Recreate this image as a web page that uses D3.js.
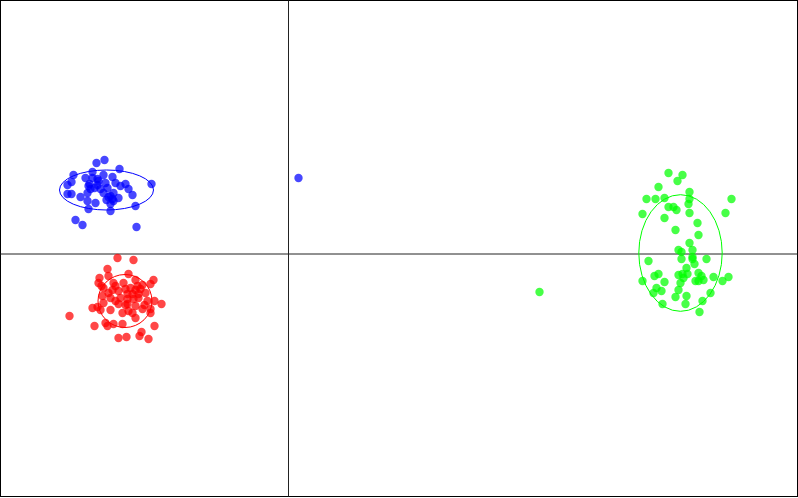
<!DOCTYPE html>
<html><head><meta charset="utf-8">
<script src="https://cdn.jsdelivr.net/npm/d3@7"></script>
<style>html,body{margin:0;padding:0;background:#fff;}svg{display:block;}</style>
</head><body>
<svg id="chart" width="798" height="498"></svg>
<script>
// Group names and colours
const groups = ["A", "B", "C"];
const groupColors = ["blue", "red", "lime"];

// Group A (blue)
const blueX = [-1.92,-1.84,-2.15,-1.96,-1.69,-2.03,-1.96,-1.85,-1.76,-2.17,-2.21,-2.00,-1.91,-1.83,-1.73,-1.63,-1.60,-1.56,-1.37,-2.21,-2.17,-2.01,-1.88,-1.85,-1.78,-1.76,-1.70,-2.01,-1.93,-1.78,-2.00,-1.78,-1.53,-2.13,-2.06,-1.52,-1.98,-1.81,-1.75,-1.91,0.10,-1.99,-1.94,-1.90,-1.80,-1.75,-1.82,-1.68,-2.08];
const blueY = [0.91,0.94,0.79,0.82,0.85,0.76,0.76,0.79,0.77,0.72,0.69,0.68,0.69,0.71,0.71,0.70,0.65,0.59,0.70,0.60,0.60,0.61,0.65,0.61,0.58,0.55,0.56,0.53,0.51,0.50,0.45,0.43,0.48,0.34,0.29,0.27,0.65,0.66,0.61,0.75,0.76,0.70,0.66,0.73,0.57,0.53,0.54,0.68,0.57];

// Group B (red)
const redX = [-1.71,-1.55,-1.81,-1.89,-1.90,-1.80,-1.60,-1.53,-1.75,-1.65,-1.35,-1.38,-1.85,-1.76,-1.70,-1.63,-1.53,-1.48,-1.56,-1.43,-1.86,-1.78,-1.68,-1.61,-1.50,-1.41,-1.34,-1.27,-1.85,-1.70,-1.61,-1.53,-1.46,-1.38,-1.96,-1.88,-1.78,-1.66,-1.56,-1.53,-1.38,-2.19,-1.83,-1.75,-1.66,-1.94,-1.81,-1.34,-1.47,-1.49,-1.70,-1.62,-1.40,-1.91,-1.61,-1.51,-1.73,-1.58,-1.50,-1.46,-1.55,-1.63,-1.73,-1.80,-1.44,-1.60,-1.87];
const redY = [-0.04,-0.06,-0.15,-0.24,-0.29,-0.22,-0.20,-0.26,-0.29,-0.29,-0.26,-0.30,-0.34,-0.36,-0.37,-0.35,-0.36,-0.35,-0.40,-0.39,-0.42,-0.44,-0.44,-0.45,-0.44,-0.47,-0.47,-0.50,-0.49,-0.50,-0.50,-0.52,-0.55,-0.55,-0.54,-0.56,-0.56,-0.59,-0.59,-0.64,-0.59,-0.62,-0.69,-0.70,-0.70,-0.72,-0.72,-0.72,-0.78,-0.82,-0.84,-0.83,-0.85,-0.53,-0.40,-0.32,-0.32,-0.34,-0.40,-0.31,-0.45,-0.51,-0.47,-0.39,-0.51,-0.57,-0.32];

// Group C (green)
const greenX = [3.80,3.94,3.89,3.70,4.01,3.58,3.67,3.76,4.01,4.43,3.80,3.85,3.88,4.00,4.37,3.54,4.01,3.76,4.09,3.87,4.10,4.01,3.90,3.93,4.04,4.04,3.93,3.60,4.04,4.18,4.06,3.98,3.66,3.70,3.90,3.94,3.99,4.10,4.13,4.25,4.40,3.54,3.76,3.92,4.07,4.10,4.15,4.34,3.68,3.73,3.90,3.65,4.22,3.87,3.98,4.14,3.74,3.97,4.11,3.95,2.51];
const greenY = [0.81,0.79,0.73,0.67,0.62,0.55,0.55,0.56,0.55,0.55,0.47,0.47,0.44,0.50,0.41,0.40,0.41,0.36,0.31,0.24,0.19,0.11,0.04,0.02,0.04,-0.03,-0.05,-0.07,-0.05,-0.05,-0.10,-0.14,-0.22,-0.20,-0.21,-0.20,-0.20,-0.19,-0.22,-0.23,-0.23,-0.27,-0.28,-0.29,-0.27,-0.27,-0.26,-0.27,-0.34,-0.37,-0.36,-0.39,-0.39,-0.43,-0.42,-0.47,-0.50,-0.50,-0.58,-0.24,-0.38];

// Confidence ellipses: centre x, centre y, semi-axis x, semi-axis y (per group)
const ellipseCX = [-1.82, -1.635, 3.92];
const ellipseCY = [0.64, -0.47, 0.01];
const ellipseRX = [0.47, 0.27, 0.417];
const ellipseRY = [0.20, 0.265, 0.583];

const W = 798, H = 498;
const svg = d3.select("#chart");
const x = d3.scaleLinear().domain([-2.885, 5.095]).range([0, W]);
const y = d3.scaleLinear().domain([2.54, -2.44]).range([0, H]);

// frame
svg.append("rect").attr("x", 0.5).attr("y", 0.5).attr("width", 797).attr("height", 496)
  .attr("fill", "none").attr("stroke", "#000").attr("stroke-width", 1);

// axes through origin
svg.append("line").attr("x1", x(0)).attr("x2", x(0)).attr("y1", 0.5).attr("y2", 496.5)
  .attr("stroke", "#222").attr("stroke-width", 1);
svg.append("line").attr("x1", 0.5).attr("x2", 797.5).attr("y1", y(0)).attr("y2", y(0))
  .attr("stroke", "#222").attr("stroke-width", 1);

const series = [
  {xs: blueX, ys: blueY},
  {xs: redX, ys: redY},
  {xs: greenX, ys: greenY}
];

series.forEach((s, gi) => {
  const pts = s.xs.map((v, i) => ({x: v, y: s.ys[i]}));
  svg.append("g").selectAll("circle").data(pts).join("circle")
    .attr("cx", d => x(d.x)).attr("cy", d => y(d.y)).attr("r", 4.2)
    .attr("fill", groupColors[gi]).attr("fill-opacity", 0.72);
});

groups.forEach((g, gi) => {
  svg.append("ellipse")
    .attr("cx", x(ellipseCX[gi])).attr("cy", y(ellipseCY[gi]))
    .attr("rx", x(ellipseCX[gi] + ellipseRX[gi]) - x(ellipseCX[gi]))
    .attr("ry", y(ellipseCY[gi] - ellipseRY[gi]) - y(ellipseCY[gi]))
    .attr("fill", "none").attr("stroke", groupColors[gi]).attr("stroke-width", 1);
});
</script>
</body></html>
